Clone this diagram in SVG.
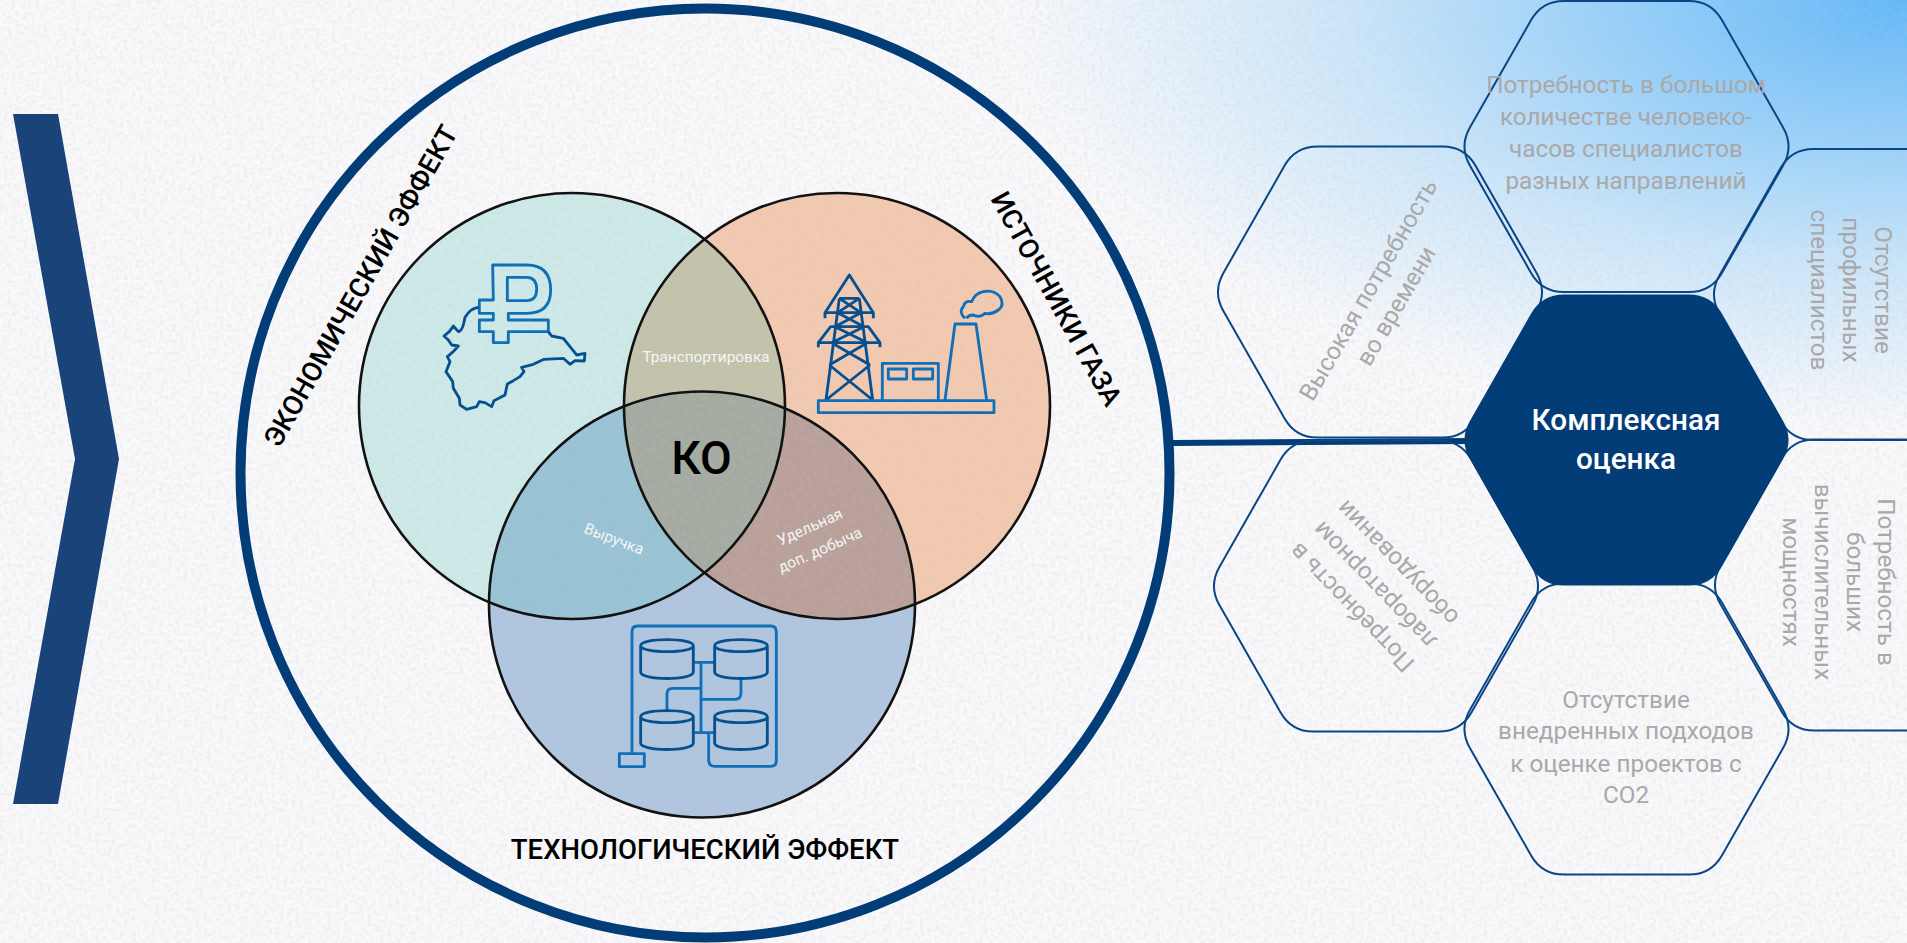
<svg xmlns="http://www.w3.org/2000/svg" xmlns:xlink="http://www.w3.org/1999/xlink" width="1907" height="943" viewBox="0 0 1907 943">
<style>
.hex{fill:none;stroke:#0b4684;stroke-width:2}
.t{font-family:Roboto,"Liberation Sans",sans-serif;font-size:24.3px;fill:#aaa8a8;text-anchor:middle}
.w{font-family:Roboto,"Liberation Sans",sans-serif;font-size:15.4px;fill:#f4f6f6;text-anchor:middle}
.h{font-family:Roboto,"Liberation Sans",sans-serif;font-size:27.5px;font-weight:500;fill:#000;text-anchor:middle}
.v{fill:none;stroke:#121212;stroke-width:2.6}
.i1{fill:none;stroke:#0f6fb8;stroke-width:8.5;stroke-linejoin:round}
.i2{fill:none;stroke:#06508f;stroke-width:8.5;stroke-linejoin:round}
</style>
<defs>
<radialGradient id="sky" gradientUnits="userSpaceOnUse" cx="0" cy="0" r="1" gradientTransform="translate(1907 0) scale(900 430)">
<stop offset="0" stop-color="#62b8f8"/><stop offset=".3" stop-color="#93cefa"/><stop offset=".62" stop-color="#cbe6fa"/><stop offset="1" stop-color="#f9f9fb"/>
</radialGradient>
<filter id="grain" x="0" y="0" width="100%" height="100%"><feTurbulence type="fractalNoise" baseFrequency="0.25" numOctaves="3" seed="4"/><feColorMatrix values="0 0 0 0 .55 0 0 0 0 .55 0 0 0 0 .6 .5 0 0 0 -.2"/></filter>
<path id="hx" d="M-62.5,-145.5H62.5Q84.5,-145.5 95.4,-126.4L156.6,-19.1Q167.5,0 156.6,19.1L95.4,126.4Q84.5,145.5 62.5,145.5H-62.5Q-84.5,145.5 -95.4,126.4L-156.6,19.1Q-167.5,0 -156.6,-19.1L-95.4,-126.4Q-84.5,-145.5 -62.5,-145.5Z"/>
<clipPath id="cg"><circle cx="572" cy="406" r="213"/></clipPath>
<clipPath id="co"><circle cx="837" cy="406" r="213"/></clipPath>
</defs>
<rect id="bg" width="1907" height="943" fill="#f9f9fb"/>
<rect width="1907" height="943" fill="url(#sky)"/>
<g id="venn">
<circle cx="572" cy="406" r="213" fill="#cdeae8"/>
<circle cx="837" cy="406" r="213" fill="#f3c9af"/>
<circle cx="702" cy="604.500" r="213" fill="#afc5df"/>
<g clip-path="url(#cg)"><circle cx="837" cy="406" r="213" fill="#c3c2aa"/><circle cx="702" cy="604.500" r="213" fill="#97c3d5"/></g>
<g clip-path="url(#co)"><circle cx="702" cy="604.500" r="213" fill="#b99f98"/></g>
<g clip-path="url(#cg)"><g clip-path="url(#co)"><circle cx="702" cy="604.500" r="213" fill="#a4aaa0"/></g></g>
</g>
<rect id="noise" width="1907" height="943" filter="url(#grain)"/>
<polygon id="chevron" points="13,114 58,114 119,459 58,804 13,804 75,459" fill="#1a4379"/>
<g id="outer-circle"><circle cx="705" cy="473" r="464.500" fill="none" stroke="#033d78" stroke-width="10"/></g>
<g id="icon-ruble" transform="translate(420 230) scale(.3333)">
<path class="i1" d="M218,105H320Q392,105 392,180Q392,250 320,250H265V270H385V305H265V338H220V305H178V270H220V250H178V210H220ZM262,142H320Q350,142 350,178Q350,212 320,212H262Z"/>
<path class="i2" d="M175,232Q150,235 135,262Q128,305 115,305L100,288L88,305L72,318L85,330L95,345L115,348L100,365L82,380L90,395L78,425L98,455L100,475L118,505L120,525L140,538L170,530L178,515L195,518L215,530L222,512L255,495L262,462L280,452L300,440L312,425L305,412L340,403L372,388L430,385L450,403L465,392L493,393L495,370L470,375L450,350L430,325L395,318L385,305"/>
</g>
<g id="icon-gas" transform="translate(790 250) scale(.3333)">
<path class="i2" d="M105,205V188H250V205M105,188L178,75L250,188M85,292V278H270V292M85,278L122,230H235L270,278M148,145H208M148,145L108,450M208,145L248,450M148,145L213,188M208,145L143,188M143,188L222,230M213,188L135,230M135,230L232,278M222,230L125,278M125,278L240,345M232,278L118,345M118,345L248,450M240,345L108,450"/>
<path class="i1" d="M85,452H612V488H85ZM277,450V340H445V450M295,357H350V387H295ZM370,357H428V387H370ZM465,450L495,222H558L590,450"/>
<path class="i1" d="M525,205Q505,185 520,170Q525,150 545,155Q555,130 580,125Q610,118 630,140Q645,165 625,180Q605,195 585,190Q570,205 550,195Q535,195 530,205"/>
</g>
<g id="icon-tech" transform="translate(600 610) scale(.3333)">
<path class="i1" d="M96,430V65Q96,48 113,48H512Q529,48 529,65V452Q529,469 512,469H345Q326,469 326,450V370M58,431H133V470H58ZM283,157H342M303,157V368M283,368H342M303,235H218Q201,235 201,252V300M303,268H405Q423,268 423,250V205"/>
<path class="i2" d="M122,107C122,83 280,83 280,107C280,131 122,131 122,107V186C122,212 280,212 280,186V107M344,107C344,83 502,83 502,107C502,131 344,131 344,107V186C344,212 502,212 502,186V107M122,320C122,296 280,296 280,320C280,344 122,344 122,320V399C122,425 280,425 280,399V320M344,320C344,296 502,296 502,320C502,344 344,344 344,320V399C344,425 502,425 502,399V320"/>
</g>
<g id="venn-lines">
<circle class="v" cx="572" cy="406" r="213"/>
<circle class="v" cx="837" cy="406" r="213"/>
<circle class="v" cx="702" cy="604.500" r="213"/>
</g>
<g id="connectors"><line x1="1173" y1="443" x2="1470" y2="441" stroke="#033d78" stroke-width="6"/></g>
<g id="hex-top"><use href="#hx" class="hex" transform="translate(1626.5 146.5)"/>
<text class="t"><tspan x="1626" y="93">Потребность в большом</tspan><tspan x="1626" y="125">количестве человеко-</tspan><tspan x="1626" y="157">часов специалистов</tspan><tspan x="1626" y="188.500">разных направлений</tspan></text></g>
<g id="hex-left-top"><use href="#hx" class="hex" transform="translate(1380 292)"/>
<text class="t" transform="translate(1380 292) rotate(-60)"><tspan x="-4" y="-3">Высокая потребность</tspan><tspan x="-4" y="29">во времени</tspan></text></g>
<g id="hex-left-bottom"><use href="#hx" class="hex" transform="translate(1376 586)"/>
<text class="t" transform="translate(1373 566) rotate(226)"><tspan x="-15" y="-36">Потребность в</tspan><tspan x="-15" y="-4">лабораторном</tspan><tspan x="-15" y="28">оборудовании</tspan></text></g>
<g id="hex-bottom"><use href="#hx" class="hex" transform="translate(1626.5 729)"/>
<text class="t"><tspan x="1626" y="707.500">Отсутствие</tspan><tspan x="1626" y="739">внедренных подходов</tspan><tspan x="1626" y="771.500">к оценке проектов с</tspan><tspan x="1626" y="803">СО2</tspan></text></g>
<g id="hex-right-top"><use href="#hx" class="hex" transform="translate(1876 294.500)"/>
<text class="t" transform="translate(1875 290) rotate(90)"><tspan x="0" y="0">Отсутствие</tspan><tspan x="0" y="32">профильных</tspan><tspan x="0" y="64">специалистов</tspan></text></g>
<g id="hex-right-bottom"><use href="#hx" class="hex" transform="translate(1877 585)"/>
<text class="t" transform="translate(1878 582) rotate(90)"><tspan x="0" y="0">Потребность в</tspan><tspan x="0" y="31.500">больших</tspan><tspan x="0" y="63">вычислительных</tspan><tspan x="0" y="95">мощностях</tspan></text></g>
<g id="hex-center"><use href="#hx" fill="#033d78" transform="translate(1626.5 440)"/>
<text font-family="Roboto,'Liberation Sans',sans-serif" font-size="29.700" font-weight="500" fill="#fff" text-anchor="middle"><tspan x="1626" y="430">Комплексная</tspan><tspan x="1626" y="468.500">оценка</tspan></text></g>
<g id="labels">
<text class="h" transform="translate(361 286) rotate(-60.500)" y="9">ЭКОНОМИЧЕСКИЙ ЭФФЕКТ</text>
<text class="h" transform="translate(1056 299) rotate(61)" y="9">ИСТОЧНИКИ ГАЗА</text>
<text class="h" x="705" y="858.500">ТЕХНОЛОГИЧЕСКИЙ ЭФФЕКТ</text>
<text font-family="Roboto,'Liberation Sans',sans-serif" font-size="46" font-weight="500" fill="#000" text-anchor="middle" x="701.500" y="474">КО</text>
<text class="w" x="706" y="362">Транспортировка</text>
<text class="w" transform="translate(614 539) rotate(21)" y="5">Выручка</text>
<text class="w" transform="translate(810 527) rotate(-24)" y="5">Удельная</text>
<text class="w" transform="translate(820 550) rotate(-24)" y="5">доп. добыча</text>
</g>
</svg>
